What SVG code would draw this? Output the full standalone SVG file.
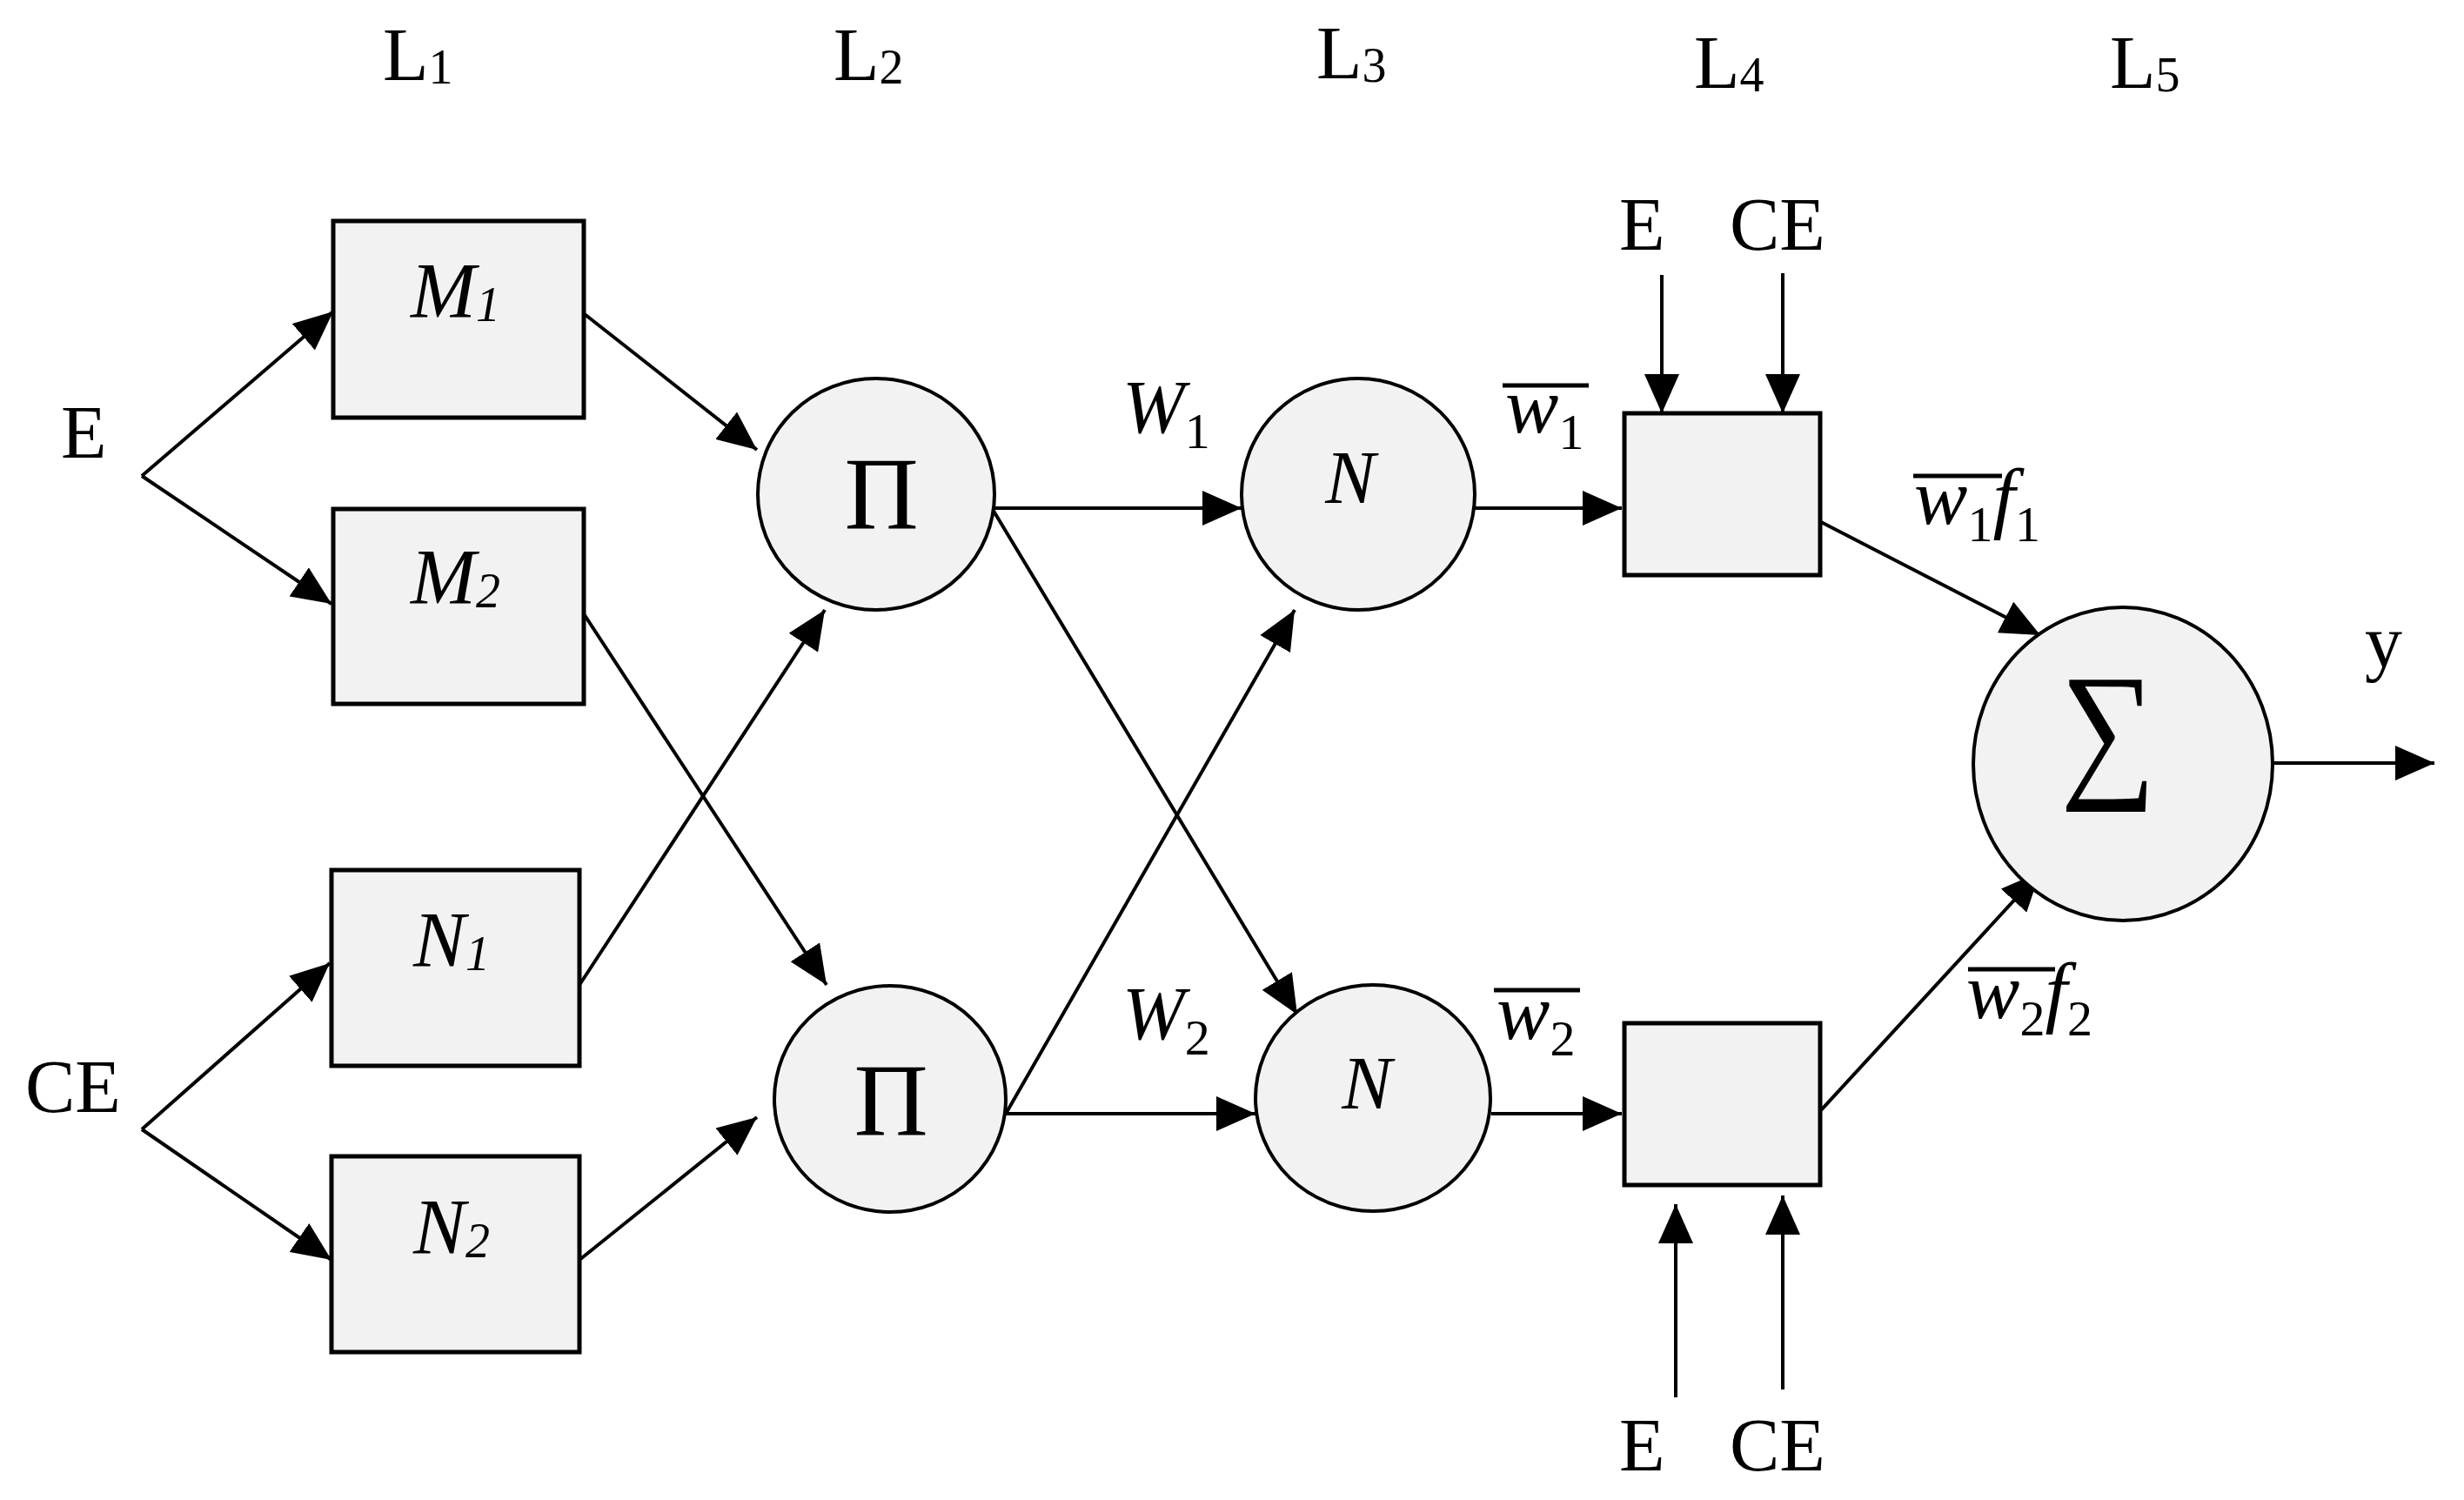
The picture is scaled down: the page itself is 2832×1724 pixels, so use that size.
<svg xmlns="http://www.w3.org/2000/svg" width="2832" height="1724" viewBox="0 0 2832 1724">
<defs>
<marker id="ah" markerUnits="userSpaceOnUse" markerWidth="46" markerHeight="40" refX="45" refY="20" orient="auto" viewBox="0 0 46 40"><path d="M0,0 L45,20 L0,40 Z" fill="#000"/></marker>
</defs>
<style>
.b{fill:#f2f2f2;stroke:#000;stroke-width:5}
.n{fill:#f2f2f2;stroke:#000;stroke-width:4}
.c{stroke:#000;stroke-width:4;fill:none;marker-end:url(#ah)}
.bar{stroke:#000;stroke-width:5}
text{font-family:"Liberation Serif","Times New Roman",serif;fill:#000}
.lab{font-size:86px}
.it{font-style:italic}
.m{font-size:90px;font-style:italic}
.sub{font-size:56px}
</style>
<rect width="2832" height="1724" fill="#fff"/>

<g id="layer-labels" class="lab">
<text x="440" y="92">L<tspan class="sub" dy="4">1</tspan></text>
<text x="958" y="92">L<tspan class="sub" dy="4">2</tspan></text>
<text x="1513" y="90">L<tspan class="sub" dy="4">3</tspan></text>
<text x="1947" y="101">L<tspan class="sub" dy="4">4</tspan></text>
<text x="2425" y="101">L<tspan class="sub" dy="4">5</tspan></text>
</g>

<g id="connectors">
<path class="c" d="M163,547 L383,358"/>
<path class="c" d="M163,547 L381,694"/>
<path class="c" d="M163,1298 L379,1107"/>
<path class="c" d="M163,1298 L381,1448"/>
<path class="c" d="M668,358 L870,517"/>
<path class="c" d="M668,701 L950,1132"/>
<path class="c" d="M666,1132 L948,701"/>
<path class="c" d="M666,1448 L870,1284"/>
<path class="c" d="M1143,584 L1427,584"/>
<path class="c" d="M1140,584 L1491,1166"/>
<path class="c" d="M1156,1280 L1443,1280"/>
<path class="c" d="M1156,1280 L1488,701"/>
<path class="c" d="M1695,584 L1864,584"/>
<path class="c" d="M1714,1280 L1864,1280"/>
<path class="c" d="M1910,316 L1910,475"/>
<path class="c" d="M2049,314 L2049,475"/>
<path class="c" d="M1926,1606 L1926,1384"/>
<path class="c" d="M2049,1597 L2049,1374"/>
<path class="c" d="M2093,600 L2345,730"/>
<path class="c" d="M2093,1276 L2345,1002"/>
<path class="c" d="M2611,877 L2798,877"/>
</g>

<g id="input-E" class="lab"><text x="70" y="526">E</text></g>
<g id="input-CE" class="lab"><text x="29" y="1278">CE</text></g>

<g id="M1"><rect class="b" x="383" y="254" width="288" height="226"/><text class="m" x="472" y="365">M<tspan class="sub" dy="4">1</tspan></text></g>
<g id="M2"><rect class="b" x="383" y="585" width="288" height="224"/><text class="m" x="472" y="694">M<tspan class="sub" dy="4">2</tspan></text></g>
<g id="N1"><rect class="b" x="381" y="1000" width="285" height="225"/><text class="m" x="475" y="1111">N<tspan class="sub" dy="4">1</tspan></text></g>
<g id="N2"><rect class="b" x="381" y="1329" width="285" height="225"/><text class="m" x="475" y="1441">N<tspan class="sub" dy="4">2</tspan></text></g>

<g id="Pi1"><ellipse class="n" cx="1007" cy="568" rx="136" ry="133"/><text x="1013" y="608" font-size="118" text-anchor="middle">Π</text></g>
<g id="Pi2"><ellipse class="n" cx="1023" cy="1263" rx="133" ry="130"/><text x="1024" y="1305" font-size="118" text-anchor="middle">Π</text></g>

<g id="W1-label"><text class="it" x="1290" y="497" font-size="86">W<tspan font-style="normal" font-size="58" dy="18">1</tspan></text></g>
<g id="W2-label"><text class="it" x="1290" y="1194" font-size="86">W<tspan font-style="normal" font-size="58" dy="18">2</tspan></text></g>

<g id="Nn1"><ellipse class="n" cx="1561" cy="568" rx="134" ry="133"/><text class="it" x="1552" y="578" font-size="86" text-anchor="middle">N</text></g>
<g id="Nn2"><ellipse class="n" cx="1578" cy="1262" rx="135" ry="130"/><text class="it" x="1571" y="1274" font-size="86" text-anchor="middle">N</text></g>

<g id="wbar1-label"><line class="bar" x1="1727" y1="443" x2="1826" y2="443"/><text class="it" x="1730" y="497" font-size="92">w<tspan font-style="normal" font-size="58" dy="19">1</tspan></text></g>
<g id="wbar2-label"><line class="bar" x1="1717" y1="1138" x2="1816" y2="1138"/><text class="it" x="1720" y="1194" font-size="92">w<tspan font-style="normal" font-size="58" dy="19">2</tspan></text></g>

<g id="top-inputs" class="lab"><text x="1861" y="287">E</text><text x="1988" y="287">CE</text></g>
<g id="bottom-inputs" class="lab"><text x="1861" y="1690">E</text><text x="1988" y="1690">CE</text></g>

<g id="L4-1"><rect class="b" x="1867" y="475" width="225" height="186"/></g>
<g id="L4-2"><rect class="b" x="1867" y="1176" width="225" height="186"/></g>

<g id="wf1-label"><line class="bar" x1="2199" y1="547" x2="2301" y2="547"/><text class="it" x="2200" y="602" font-size="92">w<tspan font-style="normal" font-size="58" dy="20">1</tspan><tspan dy="-20">f</tspan><tspan font-style="normal" font-size="58" dy="20">1</tspan></text></g>
<g id="wf2-label"><line class="bar" x1="2262" y1="1114" x2="2362" y2="1114"/><text class="it" x="2260" y="1170" font-size="92">w<tspan font-style="normal" font-size="58" dy="20">2</tspan><tspan dy="-20">f</tspan><tspan font-style="normal" font-size="58" dy="20">2</tspan></text></g>

<g id="Sigma"><ellipse class="n" cx="2440" cy="878" rx="172" ry="180"/><text x="0" y="0" font-size="175" text-anchor="middle" transform="translate(2423,896) scale(0.88,1)">∑</text></g>
<g id="output-y" class="lab"><text x="2718" y="766">y</text></g>
</svg>
